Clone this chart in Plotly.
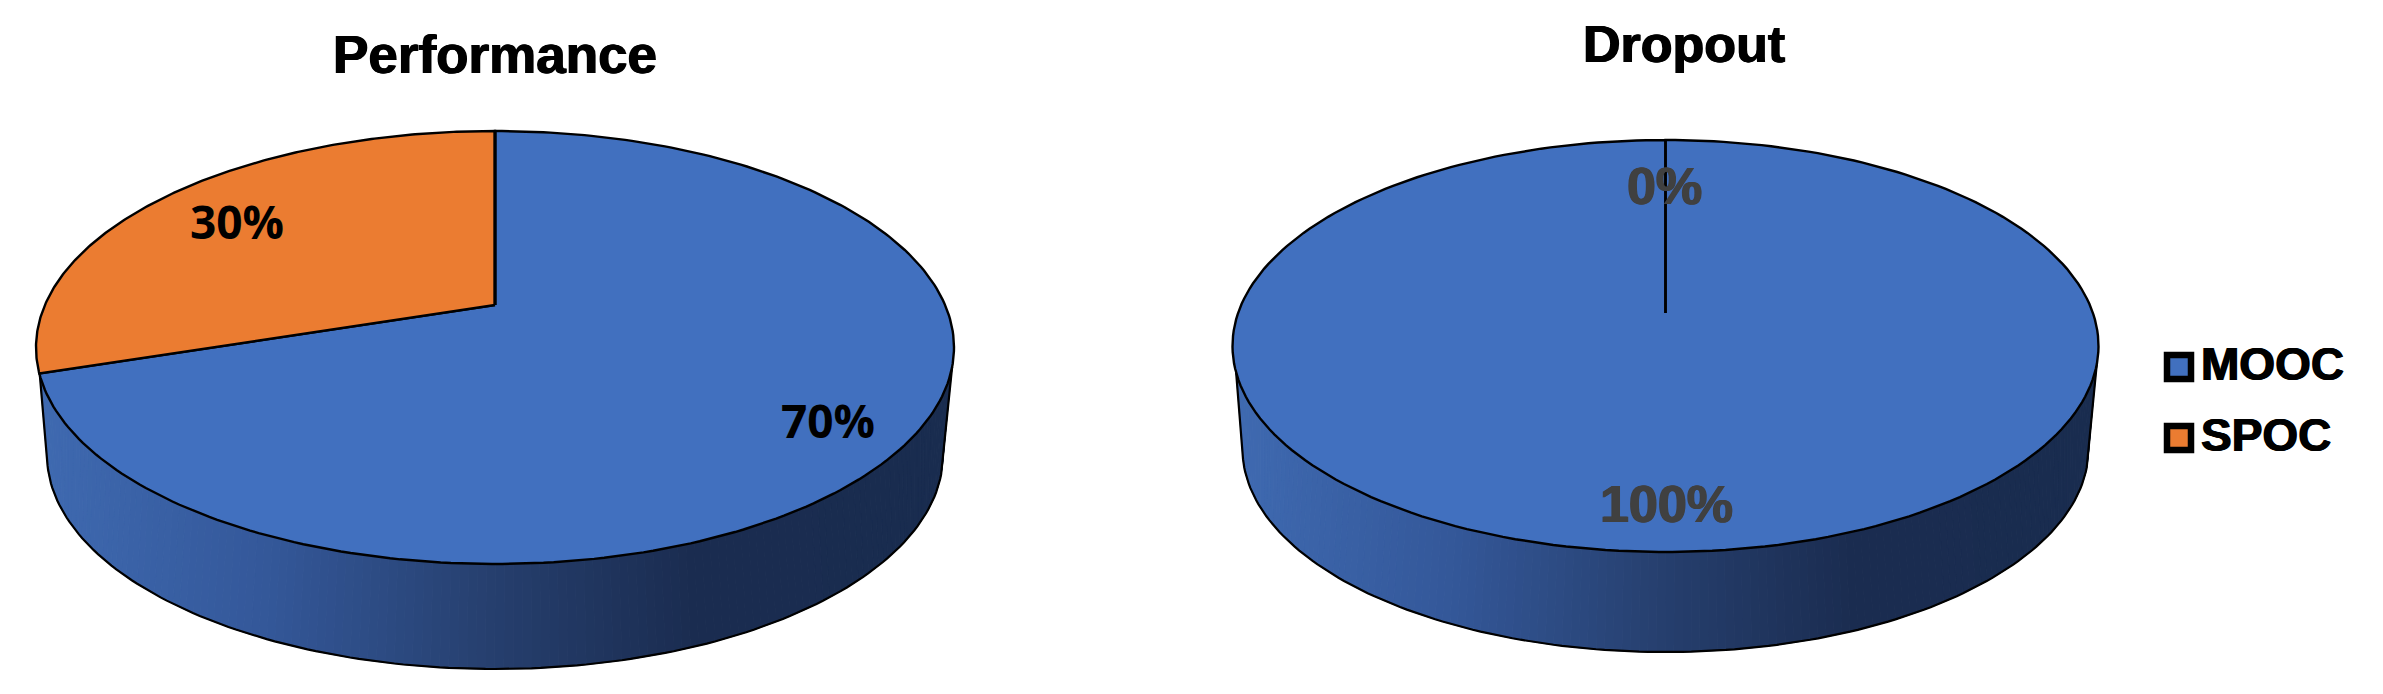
"""3D style pie charts: share of MOOC and SPOC for performance and dropout."""
import math

import numpy as np
import plotly.graph_objects as go

WIDTH = 2383
HEIGHT = 694

CATEGORIES = ['MOOC', 'SPOC']
PERFORMANCE_VALUES = [70, 30]
DROPOUT_VALUES = [100, 0]

SLICE_COLORS = ['#4170BF', '#EB7C31']
SIDE_STOPS = [
    (0.0, '#3F6AB1'),
    (0.25, '#34589A'),
    (0.5, '#263F6E'),
    (0.72, '#1A2C50'),
    (1.0, '#192C4F'),
]

# pixel geometry of the two discs (top face, then lower rim)
LEFT_PIE = dict(cx=495, apex=305, up=174, down=259, half=459,
                low_cy=455, low_half=448, low_b=214, radial=3.2)
RIGHT_PIE = dict(cx=1665.5, apex=313, up=173, down=239, half=433,
                 low_cy=449, low_half=423, low_b=203, radial=1.8)

HEAVY = '0.7px 0 0 black, -0.7px 0 0 black'
HEAVY_GREY = '0.8px 0 0 #404040, -0.8px 0 0 #404040'


def rim_point(geo, theta):
    """Top face rim point, theta clockwise from 12 o'clock, with perspective."""
    k = (geo['down'] - geo['up']) / (geo['down'] + geo['up'])
    h = geo['up'] * (1 + k)
    a = geo['half'] * math.sqrt(1 - k * k)
    u, v = np.sin(theta), np.cos(theta)
    d = 1 + k * v
    return geo['cx'] + a * u / d, geo['apex'] - h * v / d


def side_color(frac):
    for (f0, c0), (f1, c1) in zip(SIDE_STOPS, SIDE_STOPS[1:]):
        if frac <= f1:
            t = (frac - f0) / (f1 - f0)
            rgb = [
                round(int(c0[i:i + 2], 16) * (1 - t) + int(c1[i:i + 2], 16) * t)
                for i in (1, 3, 5)
            ]
            return f'rgb({rgb[0]},{rgb[1]},{rgb[2]})'
    return SIDE_STOPS[-1][1]


def add_side(fig, geo):
    top_cy = geo['apex'] + (geo['down'] - geo['up']) / 2
    top_b = (geo['up'] + geo['down']) / 2
    n = 150
    top_phi = np.linspace(0.09, math.pi - 0.13, n + 1)
    low_phi = np.linspace(0.01, math.pi - 0.05, n + 1)
    top_x = geo['cx'] + geo['half'] * np.cos(top_phi)
    top_y = top_cy + top_b * np.sin(top_phi)
    low_x = geo['cx'] + geo['low_half'] * np.cos(low_phi)
    low_y = geo['low_cy'] + geo['low_b'] * np.sin(low_phi)

    for i in range(n):
        frac = (top_x[i] + low_x[i] - 2 * (geo['cx'] - geo['half'])) / (4 * geo['half'])
        color = side_color(max(0, min(1, frac)))
        fig.add_trace(go.Scatter(
            x=[top_x[i], top_x[i + 1], low_x[i + 1], low_x[i], top_x[i]],
            y=[top_y[i], top_y[i + 1], low_y[i + 1], low_y[i], top_y[i]],
            mode='lines', fill='toself', fillcolor=color,
            line=dict(color=color, width=1), hoverinfo='skip', showlegend=False,
        ))

    fig.add_trace(go.Scatter(
        x=[top_x[0], *low_x, top_x[-1]], y=[top_y[0], *low_y, top_y[-1]],
        mode='lines', line=dict(color='black', width=2.2),
        hoverinfo='skip', showlegend=False,
    ))


def add_top(fig, geo, values):
    total = sum(values)
    start = 0.0
    for name, value, color in zip(CATEGORIES, values, SLICE_COLORS):
        sweep = 2 * math.pi * value / total
        theta = np.linspace(start, start + sweep, 240)
        x, y = rim_point(geo, theta)
        fig.add_trace(go.Scatter(
            x=[geo['cx'], *x, geo['cx']], y=[geo['apex'], *y, geo['apex']],
            mode='lines', fill='toself', fillcolor=color,
            line=dict(color='black', width=2.4), name=name,
            hovertemplate=f'{name}: {value}%<extra></extra>', showlegend=False,
        ))
        start += sweep

    # the 12 o'clock radius is drawn heavier than the rim
    top_x, top_y = rim_point(geo, 0.0)
    fig.add_trace(go.Scatter(
        x=[geo['cx'], top_x], y=[geo['apex'], top_y], mode='lines',
        line=dict(color='black', width=geo['radial']),
        hoverinfo='skip', showlegend=False,
    ))


def add_text(fig, text, x, y, size, family, color='black', shadow=None):
    fig.add_annotation(
        text=f'<b>{text}</b>', x=x, y=y, xref='x', yref='y', showarrow=False,
        xanchor='center', yanchor='middle',
        font=dict(size=size, family=family, color=color, shadow=shadow),
    )


fig = go.Figure()

for geo, values in [(LEFT_PIE, PERFORMANCE_VALUES), (RIGHT_PIE, DROPOUT_VALUES)]:
    add_side(fig, geo)
    add_top(fig, geo, values)

add_text(fig, 'Performance', 495, 54, 53, 'Liberation Sans', shadow=HEAVY)
add_text(fig, 'Dropout', 1684, 44, 52, 'Liberation Sans', shadow=HEAVY)

add_text(fig, f'{PERFORMANCE_VALUES[1]}%', 237, 221, 46, 'Open Sans')
add_text(fig, f'{PERFORMANCE_VALUES[0]}%', 828, 420, 46, 'Open Sans')
add_text(fig, f'{DROPOUT_VALUES[1]}%', 1664, 186, 52, 'Liberation Sans', '#404040', HEAVY_GREY)
add_text(fig, f'{DROPOUT_VALUES[0]}%', 1666, 504, 52, 'Liberation Sans', '#404040', HEAVY_GREY)

# hand placed legend so the marker can keep its heavy border
for name, color, y in zip(CATEGORIES, SLICE_COLORS, [367, 438]):
    fig.add_trace(go.Scatter(
        x=[2179], y=[y], mode='markers',
        marker=dict(symbol='square', size=24, color=color, line=dict(color='black', width=6.5)),
        hoverinfo='skip', showlegend=False,
    ))
    fig.add_annotation(
        text=f'<b>{name}</b>', x=2199, y=y - 3, xref='x', yref='y', showarrow=False,
        xanchor='left', yanchor='middle',
        font=dict(size=46, family='Liberation Sans', color='black', shadow=HEAVY),
    )

fig.update_layout(
    width=WIDTH,
    height=HEIGHT,
    margin=dict(l=0, r=0, t=0, b=0),
    paper_bgcolor='white',
    plot_bgcolor='white',
    showlegend=False,
    xaxis=dict(range=[0, WIDTH], visible=False, fixedrange=True),
    yaxis=dict(range=[HEIGHT, 0], visible=False, fixedrange=True),
)

fig.write_html("out.html", config={'displayModeBar': False},
               post_script="document.body.style.margin='0';")
